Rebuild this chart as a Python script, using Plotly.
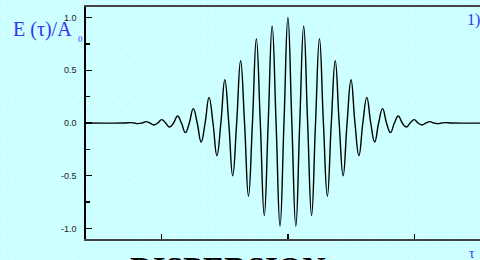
import base64
import plotly.graph_objects as go

# ---- data ----
# extrema of the oscillating pulse (tau, E/A0)
EXT_TAU = [-1.25, -1.1875, -1.125, -1.0625, -1.0, -0.9375, -0.875, -0.8125, -0.75, -0.6875,
           -0.625, -0.5625, -0.5, -0.4375, -0.375, -0.3125, -0.25, -0.1875, -0.125, -0.0625,
           0.0,
           0.0625, 0.125, 0.1875, 0.25, 0.3125, 0.375, 0.4375, 0.5, 0.5625, 0.625,
           0.6875, 0.75, 0.8125, 0.875, 0.9375, 1.0, 1.0625, 1.125, 1.1875, 1.25]
EXT_E = [0.004, -0.006, 0.013, -0.019, 0.032, -0.038, 0.066, -0.091, 0.136, -0.18,
         0.243, -0.31, 0.41, -0.50, 0.59, -0.694, 0.80, -0.877, 0.92, -0.978,
         1.00,
         -0.978, 0.92, -0.877, 0.80, -0.694, 0.59, -0.50, 0.41, -0.31, 0.243,
         -0.18, 0.136, -0.091, 0.066, -0.038, 0.032, -0.019, 0.013, -0.006, 0.004]
# zero crossings of the curve (E = 0) and flat tails
ZERO_TAU = [-1.6, -1.3, -1.21875, -1.15625, -1.09375, -1.03125, -0.96875, -0.90625, -0.84375,
            -0.78125, -0.71875, -0.65625, -0.59375, -0.53125, -0.46875, -0.40625, -0.34375,
            -0.28125, -0.21875, -0.15625, -0.09375, -0.03125,
            0.03125, 0.09375, 0.15625, 0.21875, 0.28125, 0.34375, 0.40625, 0.46875, 0.53125,
            0.59375, 0.65625, 0.71875, 0.78125, 0.84375, 0.90625, 0.96875, 1.03125, 1.09375,
            1.15625, 1.21875, 1.3, 1.6]

Y_TICKS = [-1.0, -0.5, 0.0, 0.5, 1.0]
Y_TICK_LABELS = ["-1.0", "-0.5", "0.0", "0.5", "1.0"]
X_TICKS = [-1, 0, 1]

pts = sorted(list(zip(EXT_TAU, EXT_E)) + [(t, 0.0) for t in ZERO_TAU])
tau = [p[0] for p in pts]
e = [p[1] for p in pts]

W, H = 480, 260
ML, MR, MT, MB = 86, 0, 7, 21
PW, PH = W - ML - MR, H - MT - MB

BLUE = "#3535f5"

# dotted background pattern (decoration)
svg = (
    f'<svg xmlns="http://www.w3.org/2000/svg" width="{W}" height="{H}">'
    '<defs><pattern id="p" x="2" y="1" width="15.4" height="15.4" patternUnits="userSpaceOnUse">'
    '<circle cx="2" cy="2" r="0.9" fill="#ffffff"/>'
    '<circle cx="9.7" cy="9.7" r="0.9" fill="#ffffff"/>'
    '</pattern></defs>'
    f'<rect width="{W}" height="{H}" fill="url(#p)"/></svg>'
)
src = "data:image/svg+xml;base64," + base64.b64encode(svg.encode()).decode()

fig = go.Figure()
fig.add_trace(go.Scatter(
    x=tau, y=e, mode="lines",
    line=dict(color="black", width=1.4, shape="spline", smoothing=1.3),
    hoverinfo="skip", showlegend=False,
))


def px(xp):
    return (xp - ML) / PW


def py(yp):
    return (H - MB - yp) / PH


fig.update_layout(
    width=W, height=H,
    margin=dict(l=ML, r=MR, t=MT, b=MB, pad=0),
    paper_bgcolor="#ccffff",
    plot_bgcolor="rgba(0,0,0,0)",
    showlegend=False,
    images=[dict(source=src, xref="paper", yref="paper", x=px(0), y=py(0),
                 sizex=W / PW, sizey=H / PH, sizing="stretch",
                 xanchor="left", yanchor="top", layer="below")],
    xaxis=dict(range=[-1.6, (W - ML) / 126.2 - 1.6], showgrid=False, zeroline=False,
               showline=True, linecolor="#444444", linewidth=2, mirror=True,
               ticks="inside", ticklen=5, tickwidth=1.2, tickcolor="black",
               tickvals=X_TICKS, showticklabels=False, fixedrange=True),
    yaxis=dict(range=[-1.1, 1.1], showgrid=False, zeroline=False,
               showline=True, linecolor="black", linewidth=1.6, mirror=False,
               ticks="inside", ticklen=6, tickwidth=1.2, tickcolor="black",
               tickvals=Y_TICKS, ticktext=Y_TICK_LABELS, ticklabelstandoff=6,
               tickfont=dict(family="Liberation Sans, Arial", size=9, color="#222222"),
               minor=dict(ticks="inside", ticklen=4, tickwidth=1.2, tickcolor="black",
                          dtick=0.25),
               fixedrange=True),
    annotations=[
        dict(text="E (τ)/A", xref="paper", yref="paper", x=px(11), y=py(29),
             xanchor="left", yanchor="middle", showarrow=False,
             font=dict(family="Liberation Serif, Times New Roman", size=20, color=BLUE)),
        dict(text="0", xref="paper", yref="paper", x=px(76), y=py(39),
             xanchor="left", yanchor="middle", showarrow=False,
             font=dict(family="Liberation Serif, Times New Roman", size=9, color=BLUE)),
        dict(text="1)", xref="paper", yref="paper", x=px(465), y=py(20),
             xanchor="left", yanchor="middle", showarrow=False,
             font=dict(family="Liberation Serif, Times New Roman", size=16, color=BLUE)),
        dict(text="τ", xref="paper", yref="paper", x=px(467), y=py(253),
             xanchor="left", yanchor="middle", showarrow=False,
             font=dict(family="Liberation Serif, Times New Roman", size=14, color=BLUE)),
        dict(text="<b>DISPERSION</b>", xref="paper", yref="paper", x=px(128), y=py(268),
             xanchor="left", yanchor="middle", showarrow=False,
             font=dict(family="Liberation Serif, Times New Roman", size=32, color="black")),
    ],
)

fig.write_html("out.html", config={"displayModeBar": False, "staticPlot": True},
               post_script="document.body.style.margin='0';document.body.style.padding='0';")
